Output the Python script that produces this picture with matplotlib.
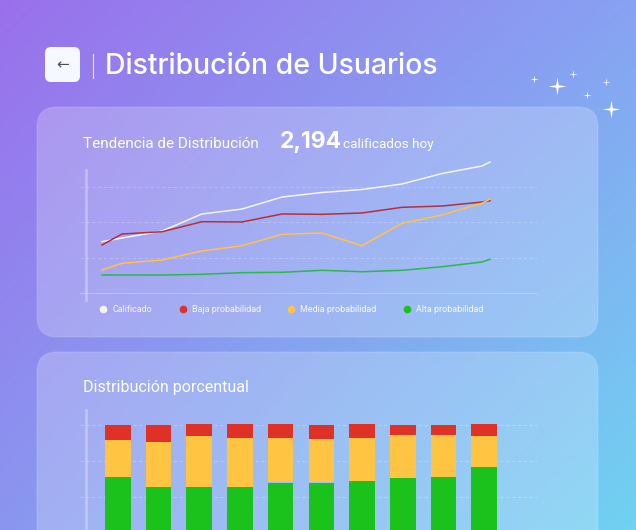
import numpy as np
import matplotlib
matplotlib.use("Agg")
import matplotlib.pyplot as plt
from matplotlib.patches import FancyBboxPatch
from matplotlib.lines import Line2D
from matplotlib.path import Path

# line chart data (x = day index)
days = [0, 1, 3, 5, 7, 9, 11, 13, 15, 17, 19, 19.4]
calificado = [731, 782, 880, 1118, 1187, 1355, 1418, 1460, 1537, 1683, 1788, 1844]
baja = [685, 838, 870, 1010, 1006, 1118, 1113, 1132, 1211, 1229, 1285, 1303]
media = [335, 429, 475, 601, 675, 834, 852, 675, 988, 1104, 1267, 1327]
alta = [265, 265, 265, 275, 298, 303, 331, 311, 331, 381, 447, 485]

# stacked percentage bars
bar_idx = list(range(10))
pct_alta = [64, 57, 57, 57, 60, 60, 61, 63, 64, 71]
pct_media = [25, 31, 35, 34, 31, 30, 30, 30, 29, 21]
pct_baja = [11, 12, 8, 9, 9, 10, 9, 7, 7, 8]

series_names = ["Calificado", "Baja probabilidad", "Media probabilidad", "Alta probabilidad"]
dot_colors = ["#f2f2f7", "#e0302a", "#ffc542", "#1cc21c"]
line_colors = ["#f4f4fa", "#b4303a", "#ffc247", "#2cb84a"]

W, H = 636, 530
fig = plt.figure(figsize=(W / 100, H / 100), dpi=100)

# background gradient
bg = fig.add_axes([0, 0, 1, 1])
bg.set_xlim(0, W)
bg.set_ylim(H, 0)
bg.axis("off")
def hx(c):
    return np.array([int(c[i:i + 2], 16) / 255 for i in (1, 3, 5)])
tl, tr, bl, br = hx("#9a70ec"), hx("#88a2f2"), hx("#8a96f0"), hx("#70d2f2")
u = np.linspace(0, 1, 200)[None, :, None]
v = np.linspace(0, 1, 170)[:, None, None]
grad = (1 - u) * (1 - v) * tl + u * (1 - v) * tr + (1 - u) * v * bl + u * v * br
bg.imshow(grad, extent=(0, W, H, 0), aspect="auto", zorder=0)

# cards
for (x0, y0, w, h) in [(37, 107, 561, 230), (37, 352, 561, 220)]:
    bg.add_patch(FancyBboxPatch((x0, y0), w, h, boxstyle="round,pad=0,rounding_size=20",
                                fc=(1, 1, 1, 0.22), ec=(1, 1, 1, 0.12), lw=1, zorder=1))

# header
bg.add_patch(FancyBboxPatch((45, 47), 35, 35, boxstyle="round,pad=0,rounding_size=6",
                            fc="#f5f8fc", ec="none", zorder=2))
bg.text(62.5, 65, "←", ha="center", va="center", fontsize=11, color="#4a4d5c", zorder=3)
bg.plot([92.5, 92.5], [54, 78], color="white", lw=0.8, alpha=0.8, zorder=3)
bg.text(105, 66, "Distribución de Usuarios", ha="left", va="center", fontsize=20.5,
        fontweight="medium", family="Inter", color="white", zorder=3)

# sparkles
star = Path([(0, 1), (0.14, 0.14), (1, 0), (0.14, -0.14), (0, -1), (-0.14, -0.14),
             (-1, 0), (-0.14, 0.14), (0, 1)])
big_x, big_y = [557, 611], [86, 109]
small_x, small_y = [534, 573, 606, 587], [79, 74, 82, 95]
bg.plot(big_x, big_y, ls="none", marker=star, ms=13, color="white", mew=0, zorder=3)
bg.plot(small_x, small_y, ls="none", marker=star, ms=6, color="white", mew=0, zorder=3)

# card titles
bg.text(83, 148, "Tendencia de Distribución", fontsize=11, family="Roboto",
        color="white", va="baseline", zorder=3)
bg.text(280, 148, "2,194", fontsize=16.5, family="Inter", fontweight="bold",
        color="white", va="baseline", zorder=3)
bg.text(343, 148, "calificados hoy", fontsize=9.7, family="Roboto",
        color="white", va="baseline", zorder=3)
bg.text(83, 392, "Distribución porcentual", fontsize=11.5, family="Roboto",
        color="white", va="baseline", zorder=3)

# line chart
ax = fig.add_axes([80 / W, 1 - 294 / H, 457 / W, 136 / H])
ax.patch.set_alpha(0)
for s in ax.spines.values():
    s.set_visible(False)
ax.set_xlim(-1.1, 21.75)
ax.set_ylim(0, 1900)
ax.set_xticks([])
ax.set_yticks([500, 1000, 1500])
ax.tick_params(left=False, labelleft=False)
ax.grid(axis="y", color="white", alpha=0.25, ls=(0, (4, 3)), lw=0.6)
ax.axhline(0, color="white", alpha=0.3, lw=2)
ax.plot([-0.8, -0.8], [-84, 1732], color="white", alpha=0.3, lw=2, clip_on=False)
for vals, c in zip([calificado, baja, media, alta], line_colors):
    ax.plot(days, vals, color=c, lw=1.1)
handles = [Line2D([], [], ls="none", marker="o", ms=4.5, color=c) for c in dot_colors]
leg = ax.legend(handles, series_names, loc="center left", bbox_to_anchor=(95 / W, 1 - 310 / H),
                bbox_transform=fig.transFigure, ncol=4, frameon=False,
                prop={"family": "Roboto", "size": 6.5},
                handlelength=0.8, handletextpad=0.6, columnspacing=3.0, borderpad=0)
for t in leg.get_texts():
    t.set_color("white")
    t.set_alpha(0.9)

# stacked bar chart
bx = fig.add_axes([80 / W, 1 - 569.5 / H, 457 / W, 159.5 / H])
bx.patch.set_alpha(0)
for s in bx.spines.values():
    s.set_visible(False)
bx.set_xlim(-0.93, 10.3)
bx.set_ylim(0, 110)
bx.set_xticks([])
bx.set_yticks([25, 50, 75, 100])
bx.tick_params(left=False, labelleft=False)
bx.grid(axis="y", color="white", alpha=0.3, ls=(0, (4, 3)), lw=0.6)
bx.set_axisbelow(True)
bx.plot([-0.78, -0.78], [0, 110], color="white", alpha=0.3, lw=2, clip_on=False)
bottom2 = [a + m for a, m in zip(pct_alta, pct_media)]
bx.bar(bar_idx, pct_alta, width=0.63, color="#1cc21c")
bx.bar(bar_idx, pct_media, bottom=pct_alta, width=0.63, color="#ffc542")
bx.bar(bar_idx, pct_baja, bottom=bottom2, width=0.63, color="#e03126")

fig.savefig("out.png", dpi=100)
